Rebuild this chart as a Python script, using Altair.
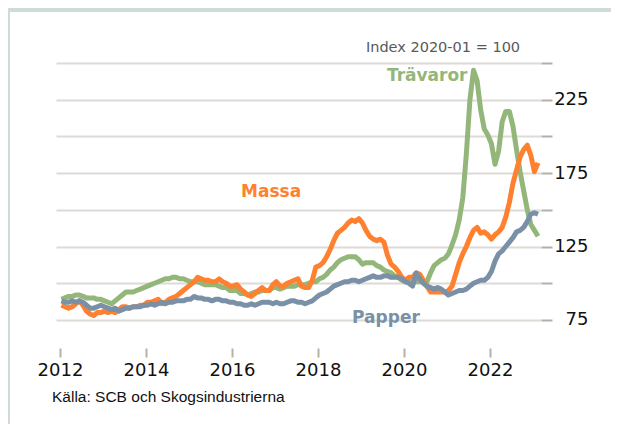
import altair as alt
import pandas as pd

# ---- data (monthly, 2012-01 .. 2023-02), index 2020-01 = 100 ----
start_year = 2012
travaror = [
    89, 90, 91, 91, 92, 92, 91, 90, 90, 90,
    89, 89, 88, 87, 86, 88, 90, 92, 94, 94,
    94, 95, 96, 97, 98, 99, 100, 101, 102, 103,
    103, 104, 104, 103, 103, 102, 101, 101, 101, 100,
    99, 99, 99, 99, 98, 97, 97, 95, 95, 95,
    93, 93, 92, 93, 94, 94, 95, 95, 95, 97,
    97, 96, 97, 98, 98, 98, 99, 99, 99, 100,
    101, 101, 103, 104, 106, 109, 111, 114, 116, 117,
    118, 118, 118, 116, 113, 114, 114, 114, 112, 111,
    109, 108, 107, 105, 104, 102, 101, 101, 101, 101,
    101, 101, 101, 107, 112, 114, 116, 117, 120, 126,
    133, 143, 158, 188, 225, 245, 238, 218, 205, 201,
    195, 181, 190, 210, 217, 217, 207, 191, 176, 163,
    150, 140, 136, 132,
]
massa = [
    85, 84, 83, 84, 86, 88, 85, 81, 79, 78,
    80, 80, 81, 80, 81, 80, 82, 84, 84, 83,
    84, 84, 85, 85, 87, 87, 88, 89, 86, 87,
    89, 90, 91, 93, 95, 97, 99, 101, 104, 103,
    102, 102, 101, 101, 103, 101, 100, 98, 98, 99,
    96, 94, 92, 91, 93, 95, 97, 95, 95, 99,
    101, 98, 98, 100, 101, 102, 103, 98, 97, 97,
    102, 111, 112, 114, 118, 123, 129, 134, 136, 138,
    141, 143, 142, 144, 141, 136, 132, 130, 129, 130,
    128, 119, 113, 111, 108, 104, 102, 104, 104, 107,
    106, 102, 98, 94, 94, 94, 94, 94, 95, 98,
    106, 114, 120, 125, 131, 136, 138, 134, 135, 133,
    130, 133, 135, 138, 145, 155, 168, 177, 186, 191,
    194, 187, 176, 182,
]
papper = [
    88, 87, 87, 88, 87, 88, 87, 85, 83, 83,
    84, 85, 84, 83, 82, 83, 81, 82, 83, 83,
    84, 84, 84, 85, 85, 86, 85, 86, 87, 86,
    87, 87, 88, 88, 88, 89, 89, 91, 90, 90,
    89, 89, 88, 89, 89, 88, 88, 87, 87, 86,
    86, 85, 85, 86, 85, 86, 87, 87, 87, 86,
    87, 86, 86, 87, 88, 88, 87, 87, 86, 87,
    88, 90, 92, 93, 94, 96, 98, 99, 100, 101,
    101, 102, 102, 101, 102, 103, 104, 105, 104, 104,
    105, 105, 104, 104, 104, 103, 101, 100, 98, 107,
    103, 100, 98, 97, 96, 97, 96, 94, 92, 93,
    94, 95, 95, 96, 98, 100, 101, 102, 102, 104,
    108, 115, 120, 122, 125, 128, 131, 135, 136, 138,
    142, 147, 148, 147,
]

series_names = ["Trävaror", "Massa", "Papper"]
series_colors = ["#93b67a", "#ff802e", "#7990a6"]

label_text = ["Trävaror", "Massa", "Papper"]
label_year = [2020.54, 2016.91, 2019.58]
label_value = [241.2, 162.2, 76.4]

x_ticks = [2012, 2014, 2016, 2018, 2020, 2022]
y_ticks = [75, 100, 125, 150, 175, 200, 225, 250]

# ---- tables ----
n = len(travaror)
t = [start_year + (m + 0.4) / 12 for m in range(n)]
rows = []
for name, vals in zip(series_names, [travaror, massa, papper]):
    for ti, v in zip(t, vals):
        rows.append({"t": ti, "v": v, "serie": name})
df = pd.DataFrame(rows)
labels_df = pd.DataFrame({"t": label_year, "v": label_value, "serie": label_text})

xscale = alt.Scale(domain=[2011.907, 2023.186], nice=False, zero=False)
yscale = alt.Scale(domain=[62, 250], nice=False, zero=False)

x_axis = alt.Axis(
    values=x_ticks, format="d", grid=False, domain=False,
    tickColor="#b5b0aa", tickWidth=2, tickSize=9, offset=9,
    labelPadding=4, labelFontSize=18, labelFont="DejaVu Sans",
    labelColor="#111111", title=None,
)
y_axis = alt.Axis(
    orient="right", values=y_ticks,
    labelExpr="datum.value % 50 == 25 ? datum.label : ''",
    grid=True, gridColor="#dedad5", gridWidth=2,
    tickColor="#b5b0aa", tickWidth=2, tickSize=11,
    domain=False, labelAlign="right", labelPadding=36,
    labelFontSize=18, labelFont="DejaVu Sans", labelColor="#111111",
    title=None,
)

X = alt.X("t:Q", scale=xscale, axis=x_axis)
Y = alt.Y("v:Q", scale=yscale, axis=y_axis)

def line_layer(name, color):
    return alt.Chart(df).transform_filter(
        alt.datum.serie == name
    ).mark_line(strokeWidth=5, color=color, strokeJoin="round").encode(x=X, y=Y)

lines = [line_layer(n_, c_) for n_, c_ in zip(series_names, series_colors)]

band = alt.Chart(pd.DataFrame({"a": [0]})).mark_rect(color="#cfdcd5").encode(
    x=alt.value(-48), x2=alt.value(560), y=alt.value(-60), y2=alt.value(-51)
)
side = alt.Chart(pd.DataFrame({"a": [0]})).mark_rule(color="#cfdcd5", strokeWidth=2).encode(
    x=alt.value(-47), y=alt.value(-51), y2=alt.value(400)
)

series_labels = alt.Chart(labels_df).mark_text(
    font="DejaVu Sans", fontWeight="bold", fontSize=17, align="center", baseline="middle"
).encode(
    x=X, y=Y,
    text="serie:N",
    color=alt.Color("serie:N", scale=alt.Scale(domain=series_names, range=series_colors), legend=None),
)

index_text = alt.Chart(pd.DataFrame({"s": ["Index 2020-01 = 100"]})).mark_text(
    font="DejaVu Sans", fontSize=14.5, color="#595959", align="center", baseline="middle"
).encode(x=alt.value(387), y=alt.value(-15), text="s:N")

source_text = alt.Chart(pd.DataFrame({"s": ["Källa: SCB och Skogsindustrierna"]})).mark_text(
    font="Liberation Sans", fontSize=15.5, color="#111111", align="left", baseline="middle"
).encode(x=alt.value(-4), y=alt.value(334), text="s:N")

chart = alt.layer(
    band, side, *lines, series_labels, index_text, source_text
).properties(
    width=485, height=276,
    background="white",
    autosize=alt.AutoSizeParams(type="none"),
    padding={"left": 48, "top": 55, "right": 70, "bottom": 85},
).configure_view(stroke=None)

chart.save("out.html", embed_options={"renderer": "svg", "actions": False})
